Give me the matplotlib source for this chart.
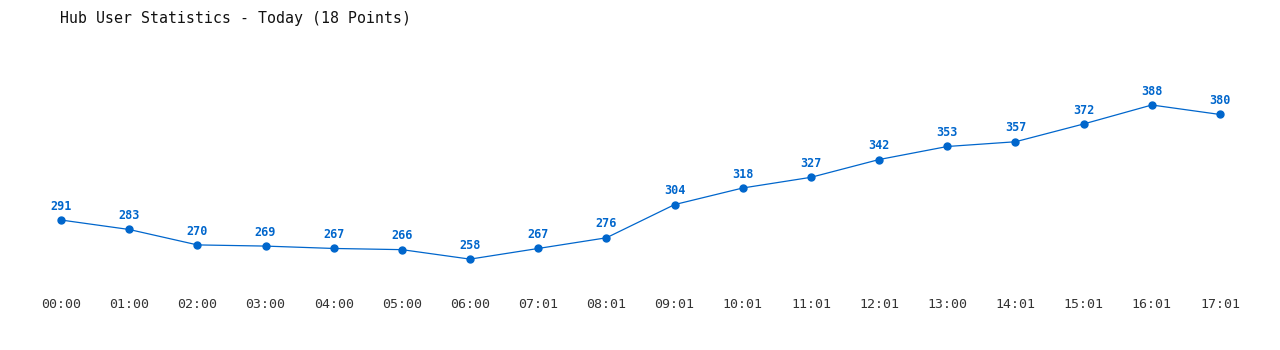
import matplotlib
matplotlib.use("Agg")
import matplotlib.pyplot as plt

# hub user counts, one per sample
times = ["00:00", "01:00", "02:00", "03:00", "04:00", "05:00", "06:00", "07:01", "08:01",
         "09:01", "10:01", "11:01", "12:01", "13:00", "14:01", "15:01", "16:01", "17:01"]
users = [291, 283, 270, 269, 267, 266, 258, 267, 276,
         304, 318, 327, 342, 353, 357, 372, 388, 380]

BLUE = "#0066cc"
MONO = ["DejaVu Sans Mono"]

fig = plt.figure(figsize=(12.8, 3.5), dpi=100)
ax = fig.add_axes([61 / 1280, 0.2, 1159 / 1280, 220 / 350])

xs = list(range(len(users)))
ax.plot(xs, users, color=BLUE, lw=0.9, marker="o", ms=5, mfc=BLUE, mec=BLUE,
        clip_on=False)
for x, v in zip(xs, users):
    ax.annotate(str(v), (x, v), xytext=(0, 10), textcoords="offset points",
                ha="center", va="center", fontsize=8.5, fontweight="bold",
                color=BLUE, family=MONO)

ax.set_xlim(0, len(users) - 1)
ax.set_ylim(240.4, 425.95)
ax.set_xticks(xs)
ax.set_xticklabels(times, family=MONO, fontsize=9.5, color="#333333")
ax.tick_params(axis="x", length=0, pad=13)
ax.set_yticks([])
for s in ax.spines.values():
    s.set_visible(False)
ax.patch.set_alpha(0)

fig.text(60 / 1280, 1 - 18 / 350, "Hub User Statistics - Today (18 Points)",
         ha="left", va="center", fontsize=10.7, family=MONO, color="#111111")

fig.savefig("out.png", dpi=100)
